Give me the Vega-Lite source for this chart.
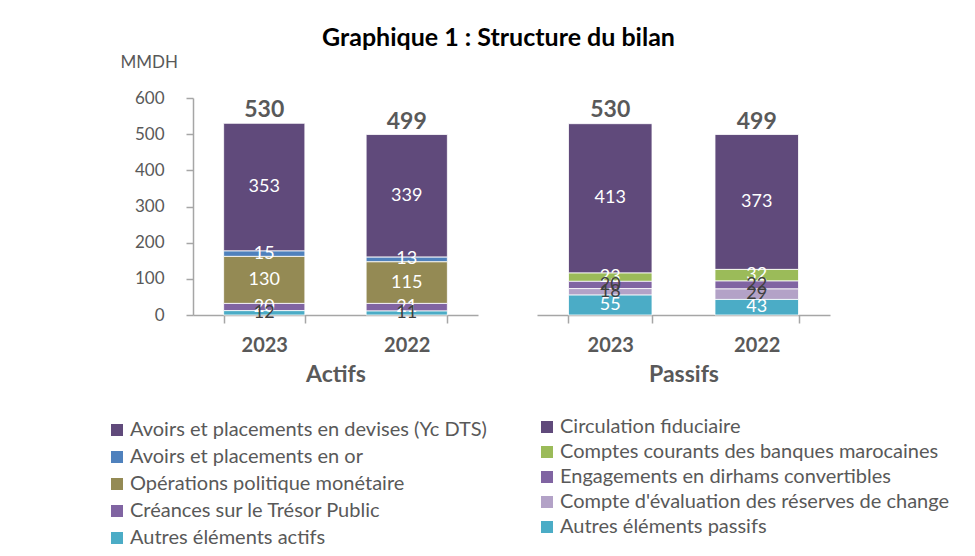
{
  "$schema": "https://vega.github.io/schema/vega-lite/v6.json",
  "autosize": "none",
  "padding": {"left": 193, "top": 98, "right": 782, "bottom": 458},
  "background": "white",
  "title": {"text": "Graphique 1 : Structure du bilan", "font": "Lato", "fontSize": 25, "fontWeight": "bold", "color": "#000000", "anchor": "middle", "dx": -30, "dy": 2},
  "datasets": {
    "actifs": [
      {"annee": "2023", "poste": "Avoirs et placements en devises (Yc DTS)", "valeur": 353, "ordre": 5},
      {"annee": "2023", "poste": "Avoirs et placements en or", "valeur": 15, "ordre": 4},
      {"annee": "2023", "poste": "Opérations politique monétaire", "valeur": 130, "ordre": 3},
      {"annee": "2023", "poste": "Créances sur le Trésor Public", "valeur": 20, "ordre": 2},
      {"annee": "2023", "poste": "Autres éléments actifs", "valeur": 12, "ordre": 1},
      {"annee": "2022", "poste": "Avoirs et placements en devises (Yc DTS)", "valeur": 339, "ordre": 5},
      {"annee": "2022", "poste": "Avoirs et placements en or", "valeur": 13, "ordre": 4},
      {"annee": "2022", "poste": "Opérations politique monétaire", "valeur": 115, "ordre": 3},
      {"annee": "2022", "poste": "Créances sur le Trésor Public", "valeur": 21, "ordre": 2},
      {"annee": "2022", "poste": "Autres éléments actifs", "valeur": 11, "ordre": 1}
    ],
    "passifs": [
      {"annee": "2023", "poste": "Circulation fiduciaire", "valeur": 413, "ordre": 5},
      {"annee": "2023", "poste": "Comptes courants des banques marocaines", "valeur": 23, "ordre": 4},
      {"annee": "2023", "poste": "Engagements en dirhams convertibles", "valeur": 20, "ordre": 3},
      {"annee": "2023", "poste": "Compte d'évaluation des réserves de change", "valeur": 18, "ordre": 2},
      {"annee": "2023", "poste": "Autres éléments passifs", "valeur": 55, "ordre": 1},
      {"annee": "2022", "poste": "Circulation fiduciaire", "valeur": 373, "ordre": 5},
      {"annee": "2022", "poste": "Comptes courants des banques marocaines", "valeur": 32, "ordre": 4},
      {"annee": "2022", "poste": "Engagements en dirhams convertibles", "valeur": 22, "ordre": 3},
      {"annee": "2022", "poste": "Compte d'évaluation des réserves de change", "valeur": 29, "ordre": 2},
      {"annee": "2022", "poste": "Autres éléments passifs", "valeur": 43, "ordre": 1}
    ],
    "totaux": [
      {"panneau": "Actifs", "annee": "2023", "total": 530},
      {"panneau": "Actifs", "annee": "2022", "total": 499},
      {"panneau": "Passifs", "annee": "2023", "total": 530},
      {"panneau": "Passifs", "annee": "2022", "total": 499}
    ]
  },
  "config": {
    "view": {"stroke": null},
    "font": "Lato",
    "axis": {"labelFont": "Lato", "titleFont": "Lato", "labelColor": "#595959", "titleColor": "#595959", "domainColor": "#A6A6A6", "tickColor": "#A6A6A6", "domainWidth": 1.5, "tickWidth": 1.5, "grid": false},
    "axisY": {"domain": true, "ticks": true, "labelOverlap": false, "domainColor": "#A6A6A6", "tickColor": "#A6A6A6"},
    "legend": {"labelFont": "Lato", "labelFontSize": 20, "labelColor": "#595959", "symbolType": "square", "symbolSize": 144, "symbolStrokeWidth": 0, "labelOffset": 3, "labelLimit": 600, "padding": 0, "title": null}
  },
  "resolve": {"scale": {"color": "independent"}},
  "spacing": 50,
  "hconcat": [
    {
      "width": 285,
      "height": 217,
      "layer": [
        {
          "data": {"name": "actifs"},
          "mark": {"type": "bar", "stroke": "white", "strokeWidth": 0.8},
          "encoding": {
            "x": {"field": "annee", "type": "nominal", "sort": ["2023", "2022"], "scale": {"paddingInner": 0.43, "paddingOuter": 0.215},
                  "axis": {"title": "Actifs", "labelAngle": 0, "tickBand": "extent", "tickSize": 8, "labelPadding": 12, "labelFontSize": 20, "labelFontWeight": "bold", "titleFontSize": 23, "titleFontWeight": "bold", "titlePadding": 8}},
            "y": {"field": "valeur", "type": "quantitative", "stack": "zero", "scale": {"domain": [0, 600], "nice": false},
                  "axis": {"values": [0, 100, 200, 300, 400, 500, 600], "tickCount": 7, "labelOverlap": false, "domain": true, "ticks": true, "tickSize": 7, "labelPadding": 22, "labelFontSize": 17, "title": "MMDH", "titleAngle": 0, "titleX": -73, "titleY": -36, "titleAlign": "left", "titleBaseline": "middle", "titleFontWeight": "normal", "titleFontSize": 17}},
            "color": {"field": "poste", "type": "nominal",
                      "scale": {"domain": ["Avoirs et placements en devises (Yc DTS)", "Avoirs et placements en or", "Opérations politique monétaire", "Créances sur le Trésor Public", "Autres éléments actifs"],
                                "range": ["#604A7B", "#4F81BD", "#948A54", "#8064A2", "#4BACC6"]},
                      "legend": {"orient": "none", "legendX": -86, "legendY": 322, "rowPadding": 7}},
            "order": {"field": "ordre", "type": "quantitative"}
          }
        },
        {
          "data": {"name": "actifs"},
          "mark": {"type": "text", "fontSize": 18, "font": "Lato", "baseline": "middle"},
          "encoding": {
            "x": {"field": "annee", "type": "nominal", "sort": ["2023", "2022"]},
            "y": {"field": "valeur", "type": "quantitative", "stack": "zero", "bandPosition": 0.5},
            "order": {"field": "ordre", "type": "quantitative"},
            "text": {"field": "valeur", "type": "quantitative"},
            "color": {"condition": {"test": "datum.poste == 'Autres éléments actifs'", "value": "#404040"}, "value": "#FFFFFF"}
          }
        },
        {
          "data": {"name": "totaux"},
          "transform": [{"filter": "datum.panneau == 'Actifs'"}],
          "mark": {"type": "text", "fontSize": 23, "fontWeight": "bold", "font": "Lato", "baseline": "bottom", "dy": -1, "color": "#595959"},
          "encoding": {
            "x": {"field": "annee", "type": "nominal", "sort": ["2023", "2022"]},
            "y": {"field": "total", "type": "quantitative"},
            "text": {"field": "total", "type": "quantitative"}
          }
        }
      ]
    },
    {
      "width": 293,
      "height": 217,
      "layer": [
        {
          "data": {"name": "passifs"},
          "mark": {"type": "bar", "stroke": "white", "strokeWidth": 0.8},
          "encoding": {
            "x": {"field": "annee", "type": "nominal", "sort": ["2023", "2022"], "scale": {"paddingInner": 0.43, "paddingOuter": 0.215},
                  "axis": {"title": "Passifs", "labelAngle": 0, "tickBand": "extent", "tickSize": 8, "labelPadding": 12, "labelFontSize": 20, "labelFontWeight": "bold", "titleFontSize": 23, "titleFontWeight": "bold", "titlePadding": 8}},
            "y": {"field": "valeur", "type": "quantitative", "stack": "zero", "scale": {"domain": [0, 600], "nice": false}, "axis": null},
            "color": {"field": "poste", "type": "nominal",
                      "scale": {"domain": ["Circulation fiduciaire", "Comptes courants des banques marocaines", "Engagements en dirhams convertibles", "Compte d'évaluation des réserves de change", "Autres éléments passifs"],
                                "range": ["#604A7B", "#9BBB59", "#8064A2", "#B3A2C7", "#4BACC6"]},
                      "legend": {"orient": "none", "legendX": 0, "legendY": 319, "rowPadding": 5}},
            "order": {"field": "ordre", "type": "quantitative"}
          }
        },
        {
          "data": {"name": "passifs"},
          "mark": {"type": "text", "fontSize": 18, "font": "Lato", "baseline": "middle"},
          "encoding": {
            "x": {"field": "annee", "type": "nominal", "sort": ["2023", "2022"]},
            "y": {"field": "valeur", "type": "quantitative", "stack": "zero", "bandPosition": 0.5},
            "order": {"field": "ordre", "type": "quantitative"},
            "text": {"field": "valeur", "type": "quantitative"},
            "color": {"condition": {"test": "datum.poste == 'Engagements en dirhams convertibles' || datum.poste == \"Compte d'évaluation des réserves de change\"", "value": "#404040"}, "value": "#FFFFFF"}
          }
        },
        {
          "data": {"name": "totaux"},
          "transform": [{"filter": "datum.panneau == 'Passifs'"}],
          "mark": {"type": "text", "fontSize": 23, "fontWeight": "bold", "font": "Lato", "baseline": "bottom", "dy": -1, "color": "#595959"},
          "encoding": {
            "x": {"field": "annee", "type": "nominal", "sort": ["2023", "2022"]},
            "y": {"field": "total", "type": "quantitative"},
            "text": {"field": "total", "type": "quantitative"}
          }
        }
      ]
    }
  ]
}
